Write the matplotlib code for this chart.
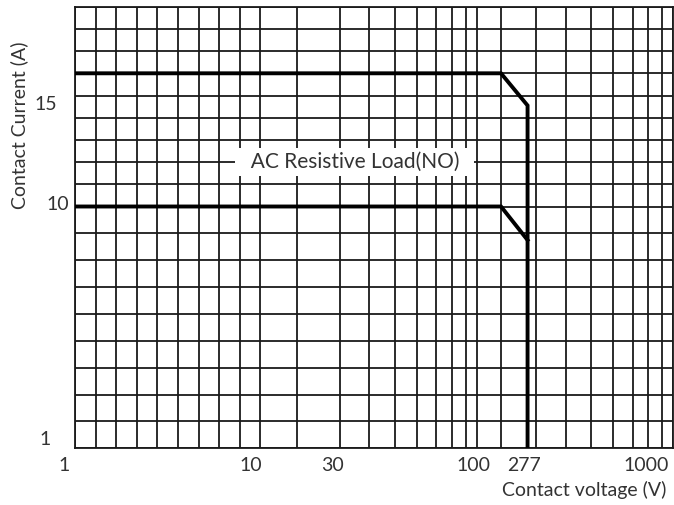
import numpy as np
import matplotlib
matplotlib.use('Agg')
import matplotlib.pyplot as plt
from matplotlib.transforms import ScaledTranslation

plt.rcParams['font.family'] = ['Lato', 'DejaVu Sans']

# data
x_grid = list(range(1, 11)) + list(range(20, 101, 10)) + list(range(200, 1001, 100))
y_grid = list(range(1, 20))

# 16 A / 10 A curves, derated between 200 V and 277 V
curve_hi_v = [1, 200, 277, 277]
curve_hi_a = [16, 16, 14.55, 1]
curve_lo_v = [1, 200, 277]
curve_lo_a = [10, 10, 8.75]

x_ticks = [1, 10, 30, 100, 277, 1000]
x_ticklabels = ['1', '10', '30', '100', '277', '1000']
y_ticks = [1, 10, 15]
y_ticklabels = ['1', '10', '15']

# the paper the chart was drawn on is not a true log grid: keep its spacing
x_scale_v = np.array(x_grid, dtype=float)
x_scale_px = np.array([75, 95.5, 116.3, 136.7, 157.3, 177.8, 198.7, 219.2, 239.7, 260.2,
                       296.7, 340, 369.3, 395, 417.3, 436.3, 452, 466.3, 476.7,
                       501, 535.5, 566, 590.5, 613, 633, 647.8, 661.5, 673])
y_scale_v = np.array([1, 10, 19], dtype=float)
y_scale_px = np.array([56.7, 298.5, 498.3])


def fwd(v, p):
    def f(a):
        return np.interp(a, v, p)
    return f


W, H = 674, 505
fig = plt.figure(figsize=(W / 100, H / 100), dpi=100)
ax = fig.add_axes([75 / W, (H - 448.3) / H, (673 - 75) / W, (448.3 - 6.7) / H])

ax.set_xscale('function', functions=(fwd(x_scale_v, x_scale_px), fwd(x_scale_px, x_scale_v)))
ax.set_yscale('function', functions=(fwd(y_scale_v, y_scale_px), fwd(y_scale_px, y_scale_v)))
ax.set_xlim(1, 1000)
ax.set_ylim(1, 19)

ax.vlines(x_grid, 1, 19, color='#1a1a1a', lw=1.3, zorder=1)
ax.hlines(y_grid, 1, 1000, color='#1a1a1a', lw=1.3, zorder=1)

ax.plot(curve_hi_v, curve_hi_a, color='black', lw=2.8, zorder=3, solid_joinstyle='miter')
ax.plot(curve_lo_v, curve_lo_a, color='black', lw=2.8, zorder=3, solid_joinstyle='miter')

ax.text(35, 12, '  AC Resistive Load(NO)  ', ha='center', va='center', fontsize=15,
        color='#333333', zorder=4,
        bbox=dict(boxstyle='square,pad=0.2', fc='white', ec='none'))

for s in ax.spines.values():
    s.set_linewidth(1.3)
    s.set_color('#1a1a1a')

ax.set_xticks(x_ticks)
ax.set_xticklabels(x_ticklabels)
ax.set_yticks(y_ticks)
ax.set_yticklabels(y_ticklabels)
ax.minorticks_off()
ax.tick_params(length=0, labelsize=14, labelcolor='#333333')
ax.tick_params(axis='x', pad=6)
ax.tick_params(axis='y', pad=0)

# hand placed label offsets (pixels) as in the drawing
x_dx = [-11, -9, -7, -3, -4, -27]
for lab, dx in zip(ax.get_xticklabels(), x_dx):
    lab.set_transform(lab.get_transform() + ScaledTranslation(dx / 100, 0, fig.dpi_scale_trans))
y_off = [(-30, 10), (-17, 3.5), (-29, -7.5)]
for lab, (dx, dy) in zip(ax.get_yticklabels(), y_off):
    lab.set_horizontalalignment('center')
    lab.set_transform(lab.get_transform() + ScaledTranslation(dx / 100, dy / 100, fig.dpi_scale_trans))

fig.text(19 / W, 1 - 125 / H, 'Contact Current (A)', rotation=90, ha='center', va='center',
         fontsize=14, color='#333333')
fig.text(584 / W, 1 - 490 / H, 'Contact voltage (V)', ha='center', va='center',
         fontsize=14, color='#333333')

fig.savefig('out.png', dpi=100)
